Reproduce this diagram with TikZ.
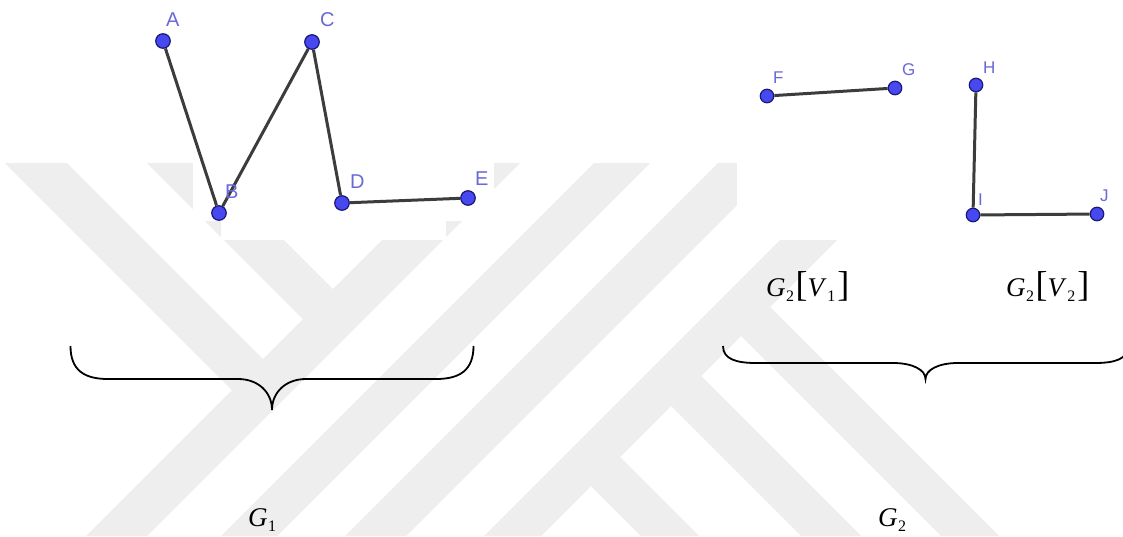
\documentclass[tikz,border=0pt]{standalone}
\usepackage{fontspec}
\setmainfont{Liberation Serif}
\newfontfamily\ggsans{Liberation Sans}
\definecolor{wm}{RGB}{238,238,238}
\definecolor{ptfill}{RGB}{72,72,240}
\definecolor{ptdraw}{RGB}{25,25,120}
\definecolor{seg}{RGB}{60,60,60}
\definecolor{lbl}{RGB}{105,105,215}
\newcommand{\Gsub}[2]{\textit{#1}\kern0.5pt\raisebox{-5pt}{\fontsize{16}{16}\selectfont #2}}
\newcommand{\bigbr}[1]{{\fontsize{36}{36}\selectfont #1}}
\tikzset{
  ptnode/.style={circle, fill=ptfill, draw=ptdraw, line width=1.2pt, inner sep=0pt, minimum size=14.5pt},
  ptsmall/.style={ptnode, minimum size=13.5pt},
  segline/.style={draw=seg, line width=3pt},
  labnode/.style={font=\ggsans\fontsize{20}{20}\selectfont, text=lbl, anchor=base west, inner sep=0pt},
  labsmall/.style={labnode, font=\ggsans\fontsize{17}{17}\selectfont},
  bracepath/.style={draw=black, line width=1.8pt},
  mlab/.style={anchor=base west, inner sep=0pt, font=\fontsize{27}{27}\selectfont},
  wmband/.style={fill=wm, draw=none},
}
\begin{document}
\begin{tikzpicture}[x=1pt,y=-1pt]
\useasboundingbox (0,0) rectangle (1123,536);
\fill[white] (0,0) rectangle (1123,536);
% watermark
\fill[wmband] (459,163) -- (520,163) -- (147,536) -- (86,536) -- cycle;
\fill[wmband] (594,163) -- (650,163) -- (277,536) -- (221,536) -- cycle;
\fill[wmband] (718,163) -- (779,163) -- (406,536) -- (345,536) -- cycle;
\fill[wmband] (857,163) -- (914,163) -- (541,536) -- (484,536) -- cycle;
\fill[wmband] (5,163) -- (67,163) -- (263.5,359.5) -- (232.5,390.5) -- cycle;
\fill[wmband] (147,163) -- (207,163) -- (333,289) -- (303,319) -- cycle;
\fill[wmband] (741,336) -- (770,307) -- (999,536) -- (941,536) -- cycle;
\fill[wmband] (671,406) -- (701,376) -- (861,536) -- (801,536) -- cycle;
\fill[wmband] (591,486) -- (620,457) -- (699,536) -- (641,536) -- cycle;
% pasted white backgrounds
\fill[white] (193,0) rectangle (494,221);
\fill[white] (221,221) rectangle (446,240);
\fill[white] (737,0) rectangle (1123,240);
% graph G1
\node[ptnode] (A) at (163,41) {};
\node[ptnode] (B) at (219,213) {};
\node[ptnode] (C) at (312,42) {};
\node[ptnode] (D) at (342,203) {};
\node[ptnode] (E) at (468,198) {};
% graph G2
\node[ptsmall] (F) at (767,96) {};
\node[ptsmall] (G) at (895,88) {};
\node[ptsmall] (H) at (976,85) {};
\node[ptsmall] (I) at (973,215) {};
\node[ptsmall] (J) at (1097,214) {};
\draw[segline] (A) -- (B) (B) -- (C) (C) -- (D) (D) -- (E);
\draw[segline] (F) -- (G) (H) -- (I) (I) -- (J);
% point labels
\node[labnode] (lA) at (166,26) {A};
\node[labnode] (lB) at (225,198) {B};
\node[labnode] (lC) at (320,26) {C};
\node[labnode] (lD) at (350,188) {D};
\node[labnode] (lE) at (475,185) {E};
\node[labsmall] (lF) at (773,83) {F};
\node[labsmall] (lG) at (902,75) {G};
\node[labsmall] (lH) at (983,73) {H};
\node[labsmall] (lI) at (978,205) {I};
\node[labsmall] (lJ) at (1100,201) {J};
% braces
\draw[bracepath] (70.5,346) .. controls (70.5,370) and (84,379) .. (108,379)
  -- (238,379) .. controls (258,379) and (272,392) .. (272,410)
  .. controls (272,392) and (286,379) .. (306,379)
  -- (436,379) .. controls (460,379) and (473.5,370) .. (473.5,346);
\draw[bracepath] (723,346) .. controls (723,359) and (736,363) .. (756,363)
  -- (893,363) .. controls (913,363) and (925.5,370) .. (925.5,379)
  .. controls (925.5,370) and (938,363) .. (958,363)
  -- (1095,363) .. controls (1115,363) and (1128,359) .. (1128,346);
% math labels
\node[mlab] (g2v1) at (766,296) {\Gsub{G}{2}\kern1.5pt\bigbr{[}\Gsub{V}{1}\kern2pt\bigbr{]}};
\node[mlab] (g2v2) at (1006,296) {\Gsub{G}{2}\kern1.5pt\bigbr{[}\Gsub{V}{2}\kern2pt\bigbr{]}};
\node[mlab] (g1) at (248,526) {\Gsub{G}{1}};
\node[mlab] (g2) at (878,526) {\Gsub{G}{2}};
\end{tikzpicture}
\end{document}
